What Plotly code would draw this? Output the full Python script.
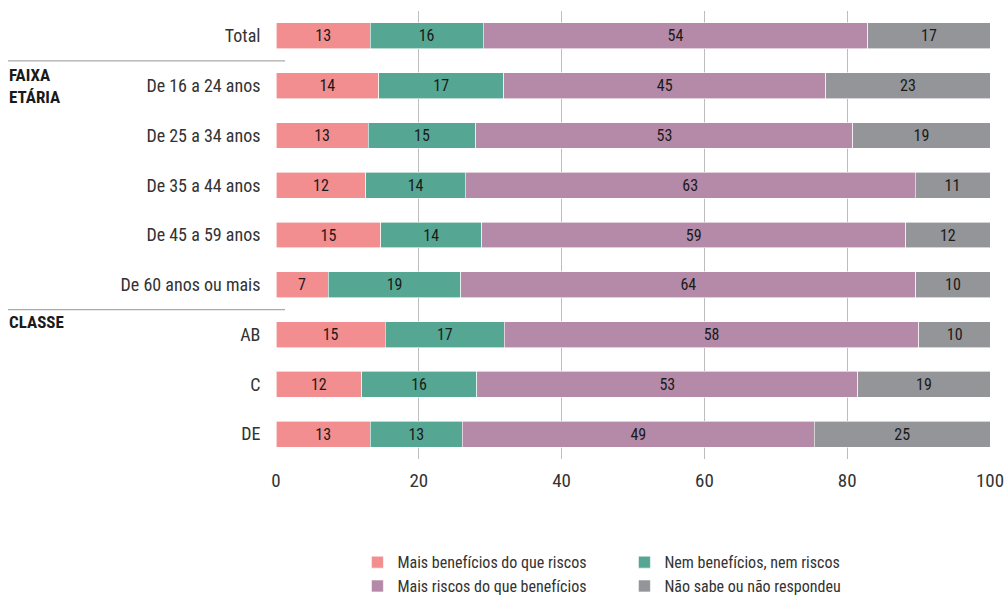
import plotly.graph_objects as go

categories = ["Total", "De 16 a 24 anos", "De 25 a 34 anos", "De 35 a 44 anos",
              "De 45 a 59 anos", "De 60 anos ou mais", "AB", "C", "DE"]

series_names = ["Mais benefícios do que riscos", "Nem benefícios, nem riscos",
                "Mais riscos do que benefícios", "Não sabe ou não respondeu"]

mais_beneficios = [13.2, 14.4, 12.9, 12.6, 14.7, 7.3, 15.3, 12.0, 13.2]
nem_nem = [15.8, 17.5, 15.1, 13.9, 14.1, 18.6, 16.7, 16.1, 12.9]
mais_riscos = [53.9, 45.1, 52.8, 63.0, 59.4, 63.7, 58.0, 53.4, 49.3]
nao_sabe = [17.1, 23.0, 19.2, 10.5, 11.8, 10.4, 10.1, 18.5, 24.6]

labels_mb = [13, 14, 13, 12, 15, 7, 15, 12, 13]
labels_nn = [16, 17, 15, 14, 14, 19, 17, 16, 13]
labels_mr = [54, 45, 53, 63, 59, 64, 58, 53, 49]
labels_ns = [17, 23, 19, 11, 12, 10, 10, 19, 25]

colors = ["#F28E8F", "#55A793", "#B48AA8", "#939598"]

x_ticks = [0, 20, 40, 60, 80, 100]

FONT = "Roboto Condensed, Liberation Sans Narrow, DejaVu Sans Condensed, Roboto, sans-serif"

fig = go.Figure()
for name, vals, labs, col in zip(series_names,
                                 [mais_beneficios, nem_nem, mais_riscos, nao_sabe],
                                 [labels_mb, labels_nn, labels_mr, labels_ns],
                                 colors):
    fig.add_trace(go.Bar(
        y=categories, x=vals, name=name, orientation="h",
        marker=dict(color=col, line=dict(color="white", width=0.6)),
        text=[str(v) for v in labs], textposition="inside",
        insidetextanchor="middle",
        textfont=dict(color="#1a1a1a", size=16, family=FONT),
        width=0.52, hoverinfo="x+y+name",
    ))

fig.update_layout(
    barmode="stack",
    width=1008, height=597,
    margin=dict(l=276, r=18, t=11, b=138, autoexpand=False),
    paper_bgcolor="white", plot_bgcolor="white",
    font=dict(family=FONT, size=16, color="#333333"),
    uniformtext=dict(minsize=10, mode="show"),
    xaxis=dict(range=[0, 100], tickvals=x_ticks, showgrid=True,
               gridcolor="#BDBDBD", gridwidth=1, zeroline=False, automargin=False,
               showline=False, ticks="outside", ticklen=4, tickcolor="rgba(0,0,0,0)",
               tickfont=dict(size=19, color="#333333"),
               fixedrange=True),
    yaxis=dict(categoryorder="array", categoryarray=categories, automargin=False,
               autorange="reversed", showgrid=False, zeroline=False,
               showline=False, ticks="outside", ticklen=11, tickcolor="rgba(0,0,0,0)",
               tickfont=dict(size=18, color="#333333"), fixedrange=True),
    legend=dict(orientation="h", x=0.488, xanchor="center", y=-0.322, yanchor="bottom",
                entrywidth=222, font=dict(size=16, color="#333333"),
                traceorder="normal", itemclick=False),
    showlegend=True,
)

# separator lines between groups
for yv in [0.5, 5.5]:
    fig.add_shape(type="line", xref="paper", yref="y",
                  x0=-268 / 714, x1=9 / 714, y0=yv, y1=yv,
                  line=dict(color="#AAAAAA", width=1.2))

fig.add_annotation(text="<b>FAIXA<br>ETÁRIA</b>", xref="paper", yref="y",
                   x=-269 / 714, y=1, xanchor="left", yanchor="middle", showarrow=False,
                   align="left", font=dict(size=17, color="#1a1a1a", family=FONT))
fig.add_annotation(text="<b>CLASSE</b>", xref="paper", yref="y",
                   x=-269 / 714, y=5.75, xanchor="left", yanchor="middle", showarrow=False,
                   align="left", font=dict(size=17, color="#1a1a1a", family=FONT))

fig.write_html("out.html", post_script="document.body.style.margin='0';",
               config={"displayModeBar": False})
